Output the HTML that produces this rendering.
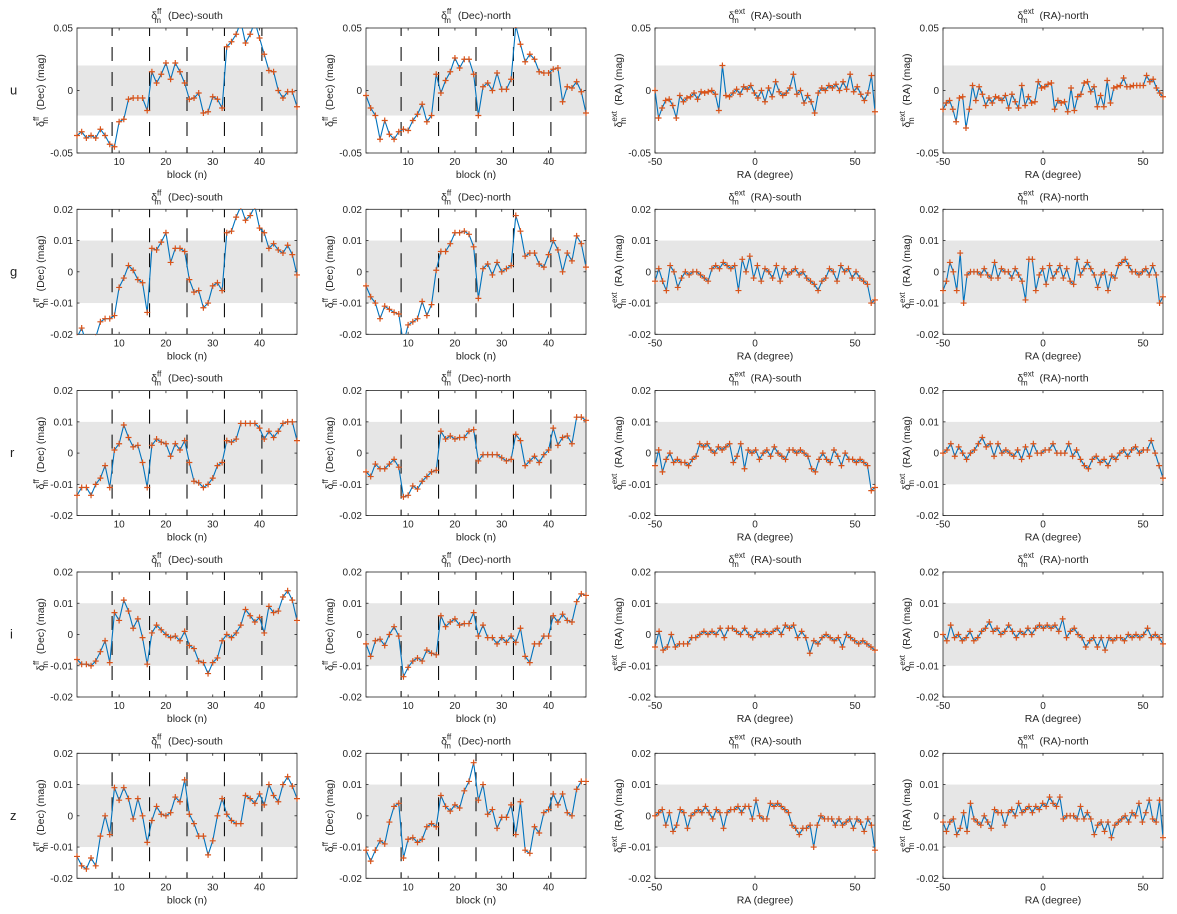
<!DOCTYPE html>
<html><head><meta charset="utf-8"><style>
html,body{margin:0;padding:0;background:#fff;}
svg{display:block;font-family:"Liberation Sans",sans-serif;}
</style></head><body>
<svg id="fig" width="1177" height="914" viewBox="0 0 1177 914" xmlns="http://www.w3.org/2000/svg"></svg>
<script>
const blockN = [1,2,3,4,5,6,7,8,9,10,11,12,13,14,15,16,17,18,19,20,21,22,23,24,25,26,27,28,29,30,31,32,33,34,35,36,37,38,39,40,41,42,43,44,45,46,47,48];
const bandLetters = ["u","g","r","i","z"];
const blockTicks = [10,20,30,40];
const raTicks = [-50,0,50];
const blockBoundaries = [8.5,16.5,24.5,32.5,40.5];
// values in units of 0.001 mag
const uSouth = [-36,-33,-38,-36,-38,-31,-36,-43,-45,-25,-23,-7,-6,-6,-6,-16,15,6,13,22,9,22,15,6,-7,-6,-2,-18,-17,-5,-7,-14,35,39,45,55,38,45,55,42,29,16,15,0,-6,-1,-1,-13];
const uNorth = [-4,-14,-20,-39,-24,-35,-39,-33,-31,-32,-24,-19,-11,-25,-20,13,-2,8,15,26,18,25,25,13,-20,3,6,0,14,1,1,9,52,37,23,29,25,15,14,14,17,18,-9,3,2,7,-1,-18];
const gSouth = [-21,-18,-23,-23,-21,-16,-15,-15,-14,-5,-2,2,0.5,-2.5,-3.5,-13,7.5,7,9.5,12.5,3,7.5,7.5,6.5,-2.5,-6.5,-6,-11.5,-10,-4.5,-3.5,-6,12.5,13,17.5,21,16.5,18,21,14,12.5,7.5,9,7,6,8.5,5.5,-1];
const gNorth = [-4.5,-8,-10,-15,-11,-12,-13,-13.5,-23,-17,-16,-15,-9.5,-14,-10.5,0.5,6.5,6.5,9,12.5,12.5,13,12,8,-8.5,1,2.5,-1,3,0,1,2,18,13,5,6,6,2.5,1.5,5.5,10,7,0,6,3.5,11.5,9,1.5];
const rSouth = [-13.5,-11,-11,-13.5,-10,-8,-4,-11,1,3,9,5,2,2.5,-3,-11,2.5,4.5,3.5,3,-1,3,1,4,-3,-9,-9.5,-11,-10,-8,-4,-3,4,3.5,4.5,9.5,9.5,9.5,9.5,8,4.5,7,5,7,9.5,10,10,4];
const rNorth = [-6,-7.5,-3.5,-5,-5,-3.5,-2,-4.5,-14,-13.5,-10.5,-11.5,-9,-7.5,-6,-5.5,7,4.5,5.5,4.5,5,5,7,7.5,-2.5,-0.5,-0.5,-0.5,-0.5,-1.5,-2.5,-2,6,4,-4,-2.5,-1,-3,-0.5,1,8,2.5,5,5.5,3,11.5,11.5,10.5];
const iSouth = [-8,-9.5,-9.5,-10,-8.5,-5.5,-2,-9,7,4.5,11,7.5,2,5,-1,-9.5,0.5,3,1.5,0,-1,-0.5,-2,1,-3.5,-4.5,-8.5,-9,-12.5,-9,-7.5,-2,0,-1,0.5,3,8,6,4,5.5,0.5,9,7,7.5,12,14,11,4.5];
const iNorth = [-3,-7,-2,-1.5,-3.5,0,2.5,-0.5,-13.5,-10.5,-8.5,-7.5,-8.5,-5,-6,-6.5,6,2.5,4,5,3,3.5,3.5,7,-0.5,3,-1,-1,-3,-1,-2.5,-0.5,-2.5,2,-7,-9,-3,-3,-0.5,-0.5,6,4,6.5,4.5,4,10.5,13,12.5];
const zSouth = [-13,-16,-17,-13.5,-16,-6.5,0,-6,9,5,9,5.5,-1,5.5,0,-8.5,-1.5,3,0.5,0,1,6,4.5,11.5,0.5,-2.5,-6.5,-6.5,-12.5,-8,0,5.5,0.5,-1.5,-2.5,-2.5,6.5,5.5,4,7,3.5,10,6.5,4.5,10,12.5,9.5,5.5];
const zNorth = [-11,-14.5,-11,-8,-9,-2,3,4,-13.5,-7.5,-7,-8.5,-7.5,-3.5,-2.5,-3.5,6.5,3,1.5,3.5,2.5,8,11,17,5,10,0.5,2,-4,-0.5,-0.5,3.5,-6,4.5,-11,-12,-3.5,-5.5,1,2,7,3.5,7,1,0,8.5,11,11];
// RA series (evenly spaced from -50 to 60 degrees), units of 0.001 mag
const uRaSouth = [0,-22,-14,-8,-7,-12,-22,-4,-9,-6,-5,-2,-7,-1,-2,-1,0,-3,-16,20,-4,-5,-2,1,-3,3,1,4,-2,-6,0,-9,2,-5,7,-1,-4,-2,2,13,-3,0,-10,-4,-9,-18,-2,2,0,4,2,5,0,7,1,13,-1,3,-3,-8,-2,12,-17];
const uRaNorth = [-15,-10,-8,-15,-25,-6,-5,-30,-15,4,-8,3,-3,-12,-6,-10,-5,-6,-8,-4,-14,-3,-9,-14,4,-12,-5,-10,-9,7,2,3,5,6,-15,-8,-10,-9,-17,2,-16,-5,-3,6,7,-1,3,-13,-4,-13,8,-10,2,3,4,10,3,3,4,4,4,4,12,7,9,2,-2,-5];
const gRaSouth = [-3,1,-3,-6,2,0,-5,-2,0,-1,0,0,-1,-2,-3,1,2,1,3,2,1,2,-6,4,0,5,-2,2,-3,1,0,-2,2,-3,1,-1,0,1,-1,0,-2,-3,-4,-6,-3,-2,1,0,-3,2,0,1,-2,0,-2,-3,-4,-10,-9];
const gRaNorth = [-6,-3,3,0,-6,6,-10,-1,0,0,0,-1,1,-1,-2,3,-2,1,0,0,-2,1,-1,-3,-9,4,4,-6,-1,1,-4,2,-2,0,2,-2,1,-3,-4,4,-1,1,3,1,-1,-5,-1,0,-6,-1,-2,2,3,4,2,0,0,-1,0,1,-1,2,-1,-10,-8];
const rRaSouth = [-4,1,-6,-2,0,-3,-2,-3,-3,-4,-2,-1,3,2,3,1,0,2,1,2,3,-3,-1,3,-5,1,0,1,-2,0,1,-1,2,0,-1,-2,1,1,0,1,0,-1,-5,-6,-2,0,-2,-3,1,-1,-4,0,-2,-2,-3,-2,-3,-4,-12,-11];
const rRaNorth = [0,1,3,-1,2,0,-2,0,1,3,5,2,3,-1,3,0,1,0,-1,1,-2,2,-1,3,0,0,1,1,3,0,0,0,3,-1,1,-2,-4,-5,-2,-1,-3,-2,-4,-1,-2,0,1,-1,1,2,0,1,1,4,0,-4,-8];
const iRaSouth = [-4,1,-5,-4,0,-4,-3,-3,-3,-1,-1,0,1,0,1,0,2,-1,2,2,1,0,2,0,-1,1,0,1,0,1,2,0,3,2,3,-1,1,-1,-6,-2,-3,-1,0,-1,-2,-1,-4,0,-1,-2,-3,-2,-3,-4,-5];
const iRaNorth = [0,-2,3,-1,0,-2,-1,1,-2,-1,1,2,4,1,2,0,1,3,1,-1,1,0,2,0,2,3,2,3,2,3,1,5,-1,1,2,0,-1,-4,-2,-1,-4,-1,-5,-1,-2,-1,-1,-2,0,-1,0,-1,0,2,-1,0,-1,-3];
const zRaSouth = [0,1,2,-3,1,-5,-3,2,1,-4,0,1,2,1,3,1,-1,2,1,-4,1,2,2,3,1,3,3,-1,5,0,-1,-1,4,3,4,3,2,1,-3,-4,-6,-4,-4,-3,-10,-3,0,-1,-1,-1,-3,-1,-3,-2,-1,-4,-1,-2,-5,-1,-3,-11];
const zRaNorth = [-2,-5,-2,-1,-6,-4,1,-5,4,-1,-2,-3,0,-2,-4,2,1,1,-3,1,2,0,4,1,2,3,1,3,2,4,3,6,4,3,6,-1,0,0,0,-1,3,-1,1,-1,-6,-3,-2,-5,-2,-7,-3,-2,-1,0,-2,1,0,4,-2,1,5,-1,-2,5,-7];

const blockSeries = [[uSouth,uNorth],[gSouth,gNorth],[rSouth,rNorth],[iSouth,iNorth],[zSouth,zNorth]];
const raSeries = [[uRaSouth,uRaNorth],[gRaSouth,gRaNorth],[rRaSouth,rRaNorth],[iRaSouth,iRaNorth],[zRaSouth,zRaNorth]];

const NS = "http://www.w3.org/2000/svg";
const svg = document.getElementById("fig");
const colX = [77,366,655,943], rowY = [28,209.3,390.6,572,753.3], PW = 220, PH = 125;
function mk(tag, attrs, parent){const e=document.createElementNS(NS,tag);for(const k in attrs)e.setAttribute(k,attrs[k]);(parent||svg).appendChild(e);return e;}

function makeLabel(g, x, y, kind, rest, rotate){
  const t = mk("text",{x:x,y:y,"font-size":"10.5","fill":"#262626","text-anchor":"middle"},g);
  if(rotate) t.setAttribute("transform","rotate(-90 "+x+" "+y+")");
  const d = document.createElementNS(NS,"tspan"); d.textContent="δ"; t.appendChild(d);
  const sp = document.createElementNS(NS,"tspan"); sp.setAttribute("dy","-5"); sp.setAttribute("font-size","8"); sp.textContent=kind; t.appendChild(sp);
  const sb = document.createElementNS(NS,"tspan"); sb.setAttribute("dy","9"); sb.setAttribute("dx",kind==="ff"?"-7":"-13"); sb.setAttribute("font-size","8"); sb.textContent="m"; t.appendChild(sb);
  const r = document.createElementNS(NS,"tspan"); r.setAttribute("dy","-4"); r.setAttribute("dx",kind==="ff"?"4":"9"); r.textContent=" "+rest; t.appendChild(r);
  return t;
}

for(let r=0;r<5;r++){
  const rl = mk("text",{x:10,y:rowY[r]+PH/2+4,"font-size":"13","fill":"#222"});
  rl.textContent = bandLetters[r];
  
  
  const ylim = r===0?50:20, band = r===0?20:10;
  const yTicks = r===0?[-50,0,50]:[-20,-10,0,10,20];
  for(let c=0;c<4;c++){
    const isBlock = c<2;
    const x0=colX[c], y0=rowY[r];
    const g = mk("g",{});
    
    
    const xmin = isBlock?1:-50, xmax = isBlock?48:60;
    const sx = v => x0 + (v-xmin)/(xmax-xmin)*PW;
    const sy = v => y0 + (ylim - v)/(2*ylim)*PH;
    const cid = "clip"+r+"_"+c;
    const cp = mk("clipPath",{id:cid},g); mk("rect",{x:x0,y:y0,width:PW,height:PH},cp);
    const cp2 = mk("clipPath",{id:cid+"m"},g); mk("rect",{x:x0-4,y:y0-1,width:PW+8,height:PH+2},cp2);
    const bandRect = mk("rect",{x:x0,y:sy(band),width:PW,height:sy(-band)-sy(band),fill:"#e6e6e6"},g);
    
    
    if(isBlock){
      blockBoundaries.forEach(b=>{
        const l = mk("line",{x1:sx(b),x2:sx(b),y1:y0,y2:y0+PH,stroke:"#111","stroke-width":"1.1","stroke-dasharray":"14,11","stroke-dashoffset":"-19"},g);
        
        
      });
    }
    const box = mk("rect",{x:x0,y:y0,width:PW,height:PH,fill:"none",stroke:"#262626","stroke-width":"0.8"},g);
    
    
    yTicks.forEach(v=>{
      mk("line",{x1:x0,x2:x0+2.5,y1:sy(v),y2:sy(v),stroke:"#262626","stroke-width":"0.8"},g);
      mk("line",{x1:x0+PW,x2:x0+PW-2.5,y1:sy(v),y2:sy(v),stroke:"#262626","stroke-width":"0.8"},g);
      const t = mk("text",{x:x0-4,y:sy(v)+3.5,"font-size":"10","fill":"#262626","text-anchor":"end"},g);
      t.textContent = v===0?"0":(v/1000).toString();
      
      
    });
    const xt = isBlock?blockTicks:raTicks;
    xt.forEach(v=>{
      mk("line",{x1:sx(v),x2:sx(v),y1:y0+PH,y2:y0+PH-2.5,stroke:"#262626","stroke-width":"0.8"},g);
      mk("line",{x1:sx(v),x2:sx(v),y1:y0,y2:y0+2.5,stroke:"#262626","stroke-width":"0.8"},g);
      const t = mk("text",{x:sx(v),y:y0+PH+12,"font-size":"10","fill":"#262626","text-anchor":"middle"},g);
      t.textContent = String(v);
      
      
    });
    const xl = mk("text",{x:x0+PW/2,y:y0+PH+25,"font-size":"10.5","fill":"#262626","text-anchor":"middle"},g);
    xl.textContent = isBlock?"block (n)":"RA (degree)";
    
    
    const tt = makeLabel(g, x0+PW/2, y0-9, isBlock?"ff":"ext", isBlock?"(Dec)-"+(c===0?"south":"north"):"(RA)-"+(c===2?"south":"north"), false);
    
    
    const yl = makeLabel(g, x0-33, y0+PH/2, isBlock?"ff":"ext", isBlock?"(Dec) (mag)":"(RA) (mag)", true);
    
    
    const vals = isBlock? blockSeries[r][c] : raSeries[r][c-2];
    const xs = isBlock? blockN : vals.map((_,i)=> -50 + i*110/(vals.length-1));
    const dg = mk("g",{"clip-path":"url(#"+cid+")"},g);
    const pts = vals.map((v,i)=> sx(xs[i]).toFixed(2)+","+sy(v).toFixed(2)).join(" ");
    const pl = mk("polyline",{points:pts,fill:"none",stroke:"#0072BD","stroke-width":"1.1"},dg);
    
    
    let d="";
    vals.forEach((v,i)=>{const px=sx(xs[i]),py=sy(v);d+="M"+(px-3)+" "+py+"h6M"+px+" "+(py-3)+"v6";});
    const mp = mk("path",{d:d,stroke:"#D95319","stroke-width":"1.2","clip-path":"url(#"+cid+"m)"},g);
    
    
  }
}
</script>
</body></html>
